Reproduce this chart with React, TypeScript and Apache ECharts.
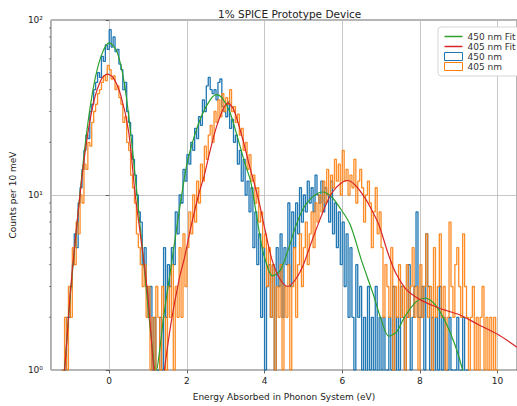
import React, { useEffect, useRef } from "react";
import * as echarts from "echarts";

// Histogram bins (counts per 10 meV), bins of 0.05 eV starting at -1.30 eV
const HIST_START = -1.3;
const BIN_WIDTH = 0.05;

const counts450: number[] = [
  0, 0, 1, 1, 2, 2, 3, 4, 6, 5, 9, 11, 14, 18, 22, 21, 30, 33, 40, 44, 50, 47, 62, 58, 72, 68,
  88, 70, 80, 66, 68, 56, 52, 40, 44, 30, 26, 22, 16, 13, 10, 8, 7, 4, 5, 3,
  2, 3, 1, 2, 0, 1, 2, 1, 5, 2, 4, 3, 5, 4, 8, 6, 10, 9, 14, 12,
  17, 15, 20, 18, 24, 21, 28, 25, 35, 30, 42, 47, 40, 38, 40, 35, 44, 46, 32, 30,
  28, 34, 24, 27, 20, 22, 15, 18, 12, 16, 10, 12, 8, 11, 5, 8, 4, 6, 2, 5,
  1, 3, 4, 2, 4, 1, 5, 3, 6, 2, 5, 4, 9, 3, 8, 5, 9, 6, 11, 7,
  10, 8, 12, 9, 11, 8, 13, 10, 9, 12, 8, 11, 10, 7, 12, 6, 9, 5, 8, 4,
  7, 3, 6, 2, 5, 2, 1, 4, 2, 3, 1, 2, 0, 3, 1, 2, 1, 3, 0, 2,
  1, 2, 0, 1, 2, 1, 3, 0, 2, 1, 3, 2, 1, 2, 4, 1, 2, 3, 8, 2,
  2, 3, 1, 6, 3, 1, 2, 0, 2, 1, 3, 1, 2, 0, 1, 2, 1, 0, 1, 2,
  0, 1, 2, 0, 1, 0, 0, 0, 0, 0, 0, 0, 0, 0, 0, 0, 0, 0, 0, 0,
  0, 0, 0, 0, 0,
];

const counts405: number[] = [
  0, 0, 1, 2, 1, 3, 2, 5, 4, 7, 6, 10, 9, 15, 14, 20, 19, 26, 30, 33, 38, 40, 44, 48, 45, 55,
  52, 46, 48, 40, 42, 36, 33, 26, 28, 20, 18, 13, 11, 9, 6, 5, 4, 3, 4, 2,
  3, 1, 2, 1, 3, 2, 1, 3, 2, 1, 3, 2, 4, 1, 3, 2, 5, 2, 6, 3,
  5, 8, 6, 10, 7, 12, 9, 15, 12, 19, 16, 22, 25, 20, 30, 26, 35, 28, 38, 30,
  36, 33, 40, 30, 32, 26, 29, 22, 24, 18, 20, 14, 17, 12, 13, 9, 11, 7, 8, 5,
  6, 3, 5, 2, 4, 1, 3, 2, 4, 1, 3, 2, 4, 1, 3, 5, 2, 4, 6, 3,
  5, 7, 4, 6, 8, 5, 9, 7, 10, 8, 12, 9, 14, 10, 13, 11, 16, 12, 15, 10,
  18, 12, 14, 10, 13, 11, 16, 9, 12, 14, 11, 7, 10, 12, 9, 5, 8, 11, 6, 8,
  5, 2, 4, 3, 2, 5, 1, 3, 2, 4, 2, 3, 1, 4, 2, 3, 5, 2, 3, 1,
  4, 2, 3, 6, 2, 3, 1, 5, 2, 3, 6, 2, 3, 1, 2, 7, 3, 2, 4, 5,
  3, 2, 6, 3, 2, 1, 2, 3, 1, 2, 1, 2, 3, 1, 2, 1, 2, 0, 2, 1,
  0, 0, 0, 0, 0,
];

// Fit curves (x in eV, y counts per 10 meV)
const fit450X: number[] = [
  -1.25, -1.15, -1.0, -0.8, -0.6, -0.4, -0.2, 0.0, 0.2, 0.4, 0.6, 0.8, 1.0, 1.1, 1.2, 1.3, 1.4, 1.6, 1.8,
  2.0, 2.2, 2.4, 2.6, 2.75, 2.9, 3.1, 3.3, 3.5, 3.64, 3.8, 3.9, 4.0, 4.2, 4.4, 4.6, 4.8, 5.0, 5.2, 5.4,
  5.5, 5.7, 5.9, 6.2, 6.5, 6.8, 7.0, 7.2, 7.4, 7.6, 7.9, 8.15, 8.4, 8.65, 8.9, 9.1, 9.25,
];
const fit450Y: number[] = [
  0.6, 1.0, 2.7, 8, 21, 42, 63, 74, 66, 42, 18, 6.5, 2.3, 1.4, 0.95, 1.3, 2.0, 4.0, 8.0,
  15, 22, 29, 35, 37.5, 36, 30, 21.5, 15, 12, 7.5, 5.5, 4.4, 3.45, 3.7, 4.8, 6.6, 8.4, 9.6, 10.3,
  10.4, 9.9, 8.7, 6.8, 4.2, 2.7, 1.95, 1.56, 1.65, 2.0, 2.45, 2.57, 2.35, 1.9, 1.4, 1.0, 0.7,
];
const fit405X: number[] = [
  -1.25, -1.15, -1.0, -0.8, -0.6, -0.4, -0.2, -0.05, 0.1, 0.3, 0.5, 0.67, 0.8, 1.0, 1.15, 1.3, 1.42, 1.6,
  1.8, 1.93, 2.1, 2.3, 2.45, 2.6, 2.8, 3.05, 3.2, 3.46, 3.6, 3.84, 4.0, 4.2, 4.4, 4.6, 4.8, 5.0, 5.17,
  5.4, 5.6, 5.75, 5.95, 6.13, 6.35, 6.6, 6.8, 6.95, 7.2, 7.4, 7.63, 7.8, 8.04, 8.4, 8.7, 9.06, 9.5, 10.0, 10.5,
];
const fit405Y: number[] = [
  0.7, 1.0, 2.8, 8, 19, 34, 46, 49, 47, 37, 23, 10, 6, 2.6, 1.0, 0.6, 1.0, 1.9,
  3.3, 4.3, 6.5, 10, 13, 18, 26, 33.5, 31, 20, 15, 9.5, 6.5, 4.2, 3.3, 3.0, 3.3, 4.0, 5.1,
  7.0, 9.0, 10.4, 11.6, 12.1, 11.3, 9.5, 7.9, 6.7, 4.5, 3.5, 2.92, 2.7, 2.5, 2.3, 2.18, 2.05, 1.82, 1.6, 1.35,
];

const X_MIN = -1.5;
const X_MAX = 10.5;
const Y_MIN = 1;
const Y_MAX = 100;
const yMinorTicks: number[] = [2, 3, 4, 5, 6, 7, 8, 9, 20, 30, 40, 50, 60, 70, 80, 90];
const xTickLabels: number[] = [0, 2, 4, 6, 8, 10];

const C450 = "#1f77b4";
const C405 = "#ff7f0e";
const CFIT450 = "#2ca02c";
const CFIT405 = "#d62728";
const FONT = "DejaVu Sans";

function stepPoints(vals: number[]): number[][] {
  const pts: number[][] = [];
  vals.forEach((v, i) => {
    const x0 = HIST_START + i * BIN_WIDTH;
    const y = v > 0 ? v : 0.05;
    pts.push([x0, y], [x0 + BIN_WIDTH, y]);
  });
  return pts;
}

function pairs(xs: number[], ys: number[]): number[][] {
  return xs.map((x, i) => [x, ys[i]]);
}

const supers: Record<number, string> = { 1: "10⁰", 10: "10¹", 100: "10²" };

export default function App() {
  const ref = useRef<HTMLDivElement>(null);
  useEffect(() => {
    if (!ref.current) return;
    const chart = echarts.init(ref.current, undefined, { renderer: "svg" });
    chart.setOption({
      animation: false,
      backgroundColor: "#ffffff",
      title: {
        text: "1% SPICE Prototype Device",
        left: 213,
        top: 3,
        textStyle: { fontFamily: FONT, fontSize: 10.5, fontWeight: "normal", color: "#222" },
      },
      legend: {
        orient: "vertical",
        left: 438,
        top: 27,
        padding: [5, 6, 5, 6],
        itemGap: 1,
        itemWidth: 18,
        itemHeight: 8,
        borderColor: "#cccccc",
        borderWidth: 0.8,
        borderRadius: 3,
        backgroundColor: "#ffffff",
        textStyle: { fontFamily: FONT, fontSize: 9, color: "#333" },
        data: [
          { name: "450 nm Fit", icon: "path://M0 0H24V2H0Z", itemStyle: { color: CFIT450, borderWidth: 0 } },
          { name: "405 nm Fit", icon: "path://M0 0H24V2H0Z", itemStyle: { color: CFIT405, borderWidth: 0 } },
          { name: "450 nm", icon: "rect", itemStyle: { color: "#ffffff", borderColor: C450, borderWidth: 1 } },
          { name: "405 nm", icon: "rect", itemStyle: { color: "#ffffff", borderColor: C405, borderWidth: 1 } },
        ],
      },
      grid: {
        left: 48,
        right: -3,
        top: 20,
        bottom: 34,
        show: true,
        borderColor: "#444",
        borderWidth: 0.8,
        backgroundColor: "transparent",
      },
      xAxis: {
        type: "value",
        min: X_MIN,
        max: X_MAX,
        splitNumber: 6,
        name: "Energy Absorbed in Phonon System (eV)",
        nameLocation: "middle",
        nameGap: 22,
        nameTextStyle: { fontFamily: FONT, fontSize: 9, color: "#222" },
        axisLine: { show: false },
        axisTick: { show: true, length: 3.5, lineStyle: { color: "#444", width: 0.8 } },
        axisLabel: {
          fontFamily: FONT,
          fontSize: 9,
          color: "#222",
          margin: 6,
          showMinLabel: false,
          showMaxLabel: false,
          formatter: (v: number) => (xTickLabels.some((t) => Math.abs(t - v) < 1e-6) ? String(v) : ""),
        },
        splitLine: { show: true, lineStyle: { color: "#b8b8b8", width: 0.8 } },
      },
      yAxis: {
        type: "log",
        logBase: 10,
        min: Y_MIN,
        max: Y_MAX,
        name: "Counts per 10 meV",
        nameLocation: "middle",
        nameGap: 32,
        nameTextStyle: { fontFamily: FONT, fontSize: 9, color: "#222" },
        axisLine: { show: false },
        axisTick: { show: true, length: 3.5, lineStyle: { color: "#444", width: 0.8 } },
        axisLabel: {
          fontFamily: FONT,
          fontSize: 9,
          color: "#222",
          margin: 8,
          formatter: (v: number) => supers[Math.round(v)] ?? "",
        },
        splitLine: { show: true, lineStyle: { color: "#b8b8b8", width: 0.8 } },
      },
      series: [
        {
          name: "450 nm",
          type: "line",
          data: stepPoints(counts450),
          showSymbol: false,
          symbol: "none",
          clip: true,
          lineStyle: { color: C450, width: 1.3 },
          itemStyle: { color: C450 },
          z: 2,
        },
        {
          name: "405 nm",
          type: "line",
          data: stepPoints(counts405),
          showSymbol: false,
          symbol: "none",
          clip: true,
          lineStyle: { color: C405, width: 1.3, opacity: 0.9 },
          itemStyle: { color: C405 },
          z: 2,
        },
        {
          name: "450 nm Fit",
          type: "line",
          data: pairs(fit450X, fit450Y),
          showSymbol: false,
          symbol: "none",
          smooth: 0.3,
          clip: true,
          lineStyle: { color: CFIT450, width: 1.2 },
          itemStyle: { color: CFIT450 },
          z: 3,
        },
        {
          name: "405 nm Fit",
          type: "line",
          data: pairs(fit405X, fit405Y),
          showSymbol: false,
          symbol: "none",
          smooth: 0.3,
          clip: true,
          lineStyle: { color: CFIT405, width: 1.2 },
          itemStyle: { color: CFIT405 },
          z: 3,
        },
        {
          name: "minor ticks",
          type: "custom",
          silent: true,
          clip: false,
          data: yMinorTicks.map((v) => [X_MIN, v]),
          renderItem: (_params: any, api: any) => {
            const p = api.coord([api.value(0), api.value(1)]);
            return {
              type: "line",
              shape: { x1: p[0] - 2, y1: p[1], x2: p[0], y2: p[1] },
              style: { stroke: "#444", lineWidth: 0.6 },
            };
          },
          z: 4,
        },
      ],
    });
    return () => chart.dispose();
  }, []);
  return (
    <div
      ref={ref}
      style={{ position: "fixed", left: 0, top: 0, width: 517, height: 406, background: "#fff" }}
    />
  );
}
